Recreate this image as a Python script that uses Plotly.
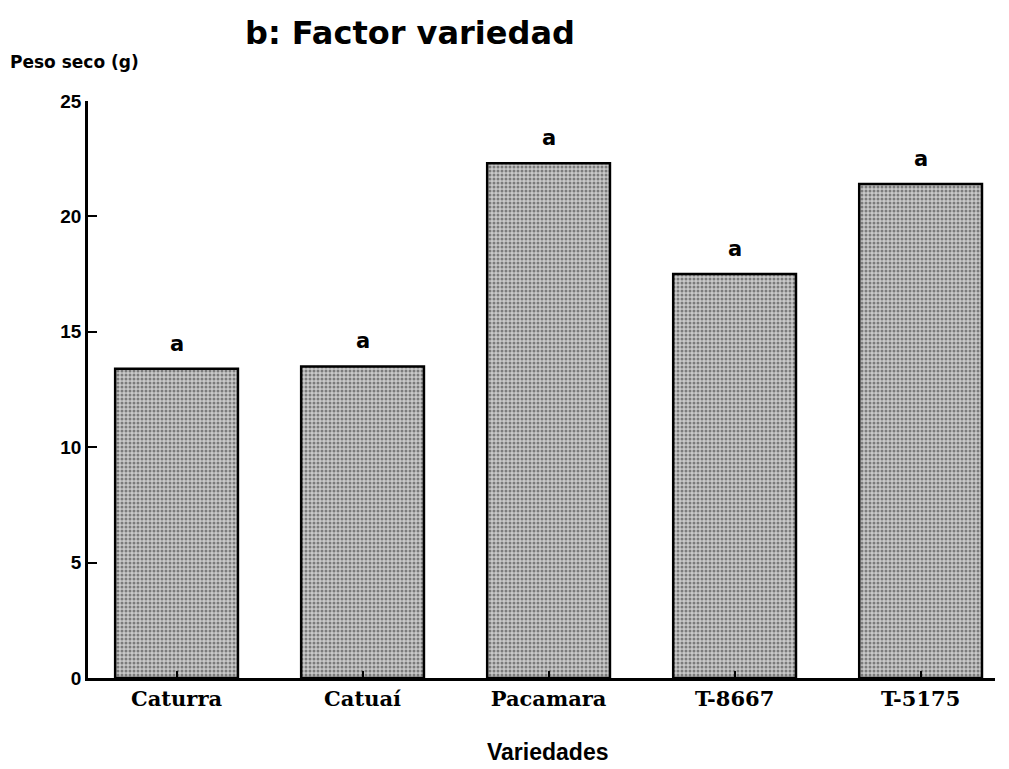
import plotly.graph_objects as go

categories = ["Caturra", "Catuaí", "Pacamara", "T-8667", "T-5175"]
peso_seco = [13.4, 13.5, 22.3, 17.5, 21.4]
letters = ["a", "a", "a", "a", "a"]
y_ticks = [0, 5, 10, 15, 20, 25]

fig = go.Figure()
fig.add_trace(go.Bar(
    x=categories, y=peso_seco, width=0.66,
    marker=dict(color="#bdbdbd", line=dict(color="black", width=2.5),
                pattern=dict(shape=".", fgcolor="#2e2e2e", bgcolor="#c9c9c9", size=4, solidity=0.45)),
    showlegend=False, hoverinfo="skip",
))

for c, v, t in zip(categories, peso_seco, letters):
    fig.add_annotation(x=c, y=v, text=t, showarrow=False, yshift=25,
                       font=dict(family="DejaVu Sans", size=21, color="black", weight="bold"))

fig.add_annotation(xref="paper", yref="paper", x=0.355, y=1.0, yshift=89, xanchor="center",
                   text="<b>b: Factor variedad</b>", showarrow=False,
                   font=dict(family="DejaVu Sans", size=32, color="black"))
fig.add_annotation(xref="paper", yref="paper", x=-0.088, xanchor="left", y=1.0, yshift=51,
                   text="<b>Peso seco (g)</b>", showarrow=False,
                   font=dict(family="DejaVu Sans", size=17, color="black"))
fig.add_annotation(xref="paper", yref="paper", x=0.507, y=0, yshift=-89, xanchor="center",
                   text="<b>Variedades</b>", showarrow=False,
                   font=dict(family="Liberation Sans", size=23, color="black"))

fig.update_layout(
    width=1009, height=769,
    margin=dict(l=80, r=22, t=93, b=99),
    plot_bgcolor="white", paper_bgcolor="white",
    bargap=0.34,
)
fig.update_xaxes(range=[-0.476, 4.40], showline=True, linecolor="black", linewidth=2.5,
                 ticks="inside", ticklen=7, tickwidth=1.5, tickcolor="black",
                 tickfont=dict(family="DejaVu Serif", size=21, color="black", weight="bold"),
                 showgrid=False, zeroline=False)
fig.update_yaxes(range=[0, 25], tickvals=y_ticks, showline=True, linecolor="black", linewidth=2.5,
                 ticks="inside", ticklen=9, tickwidth=1.5, tickcolor="black",
                 tickfont=dict(family="Liberation Sans", size=19, color="black", weight="bold"),
                 showgrid=False, zeroline=False)

fig.write_html("out.html")
